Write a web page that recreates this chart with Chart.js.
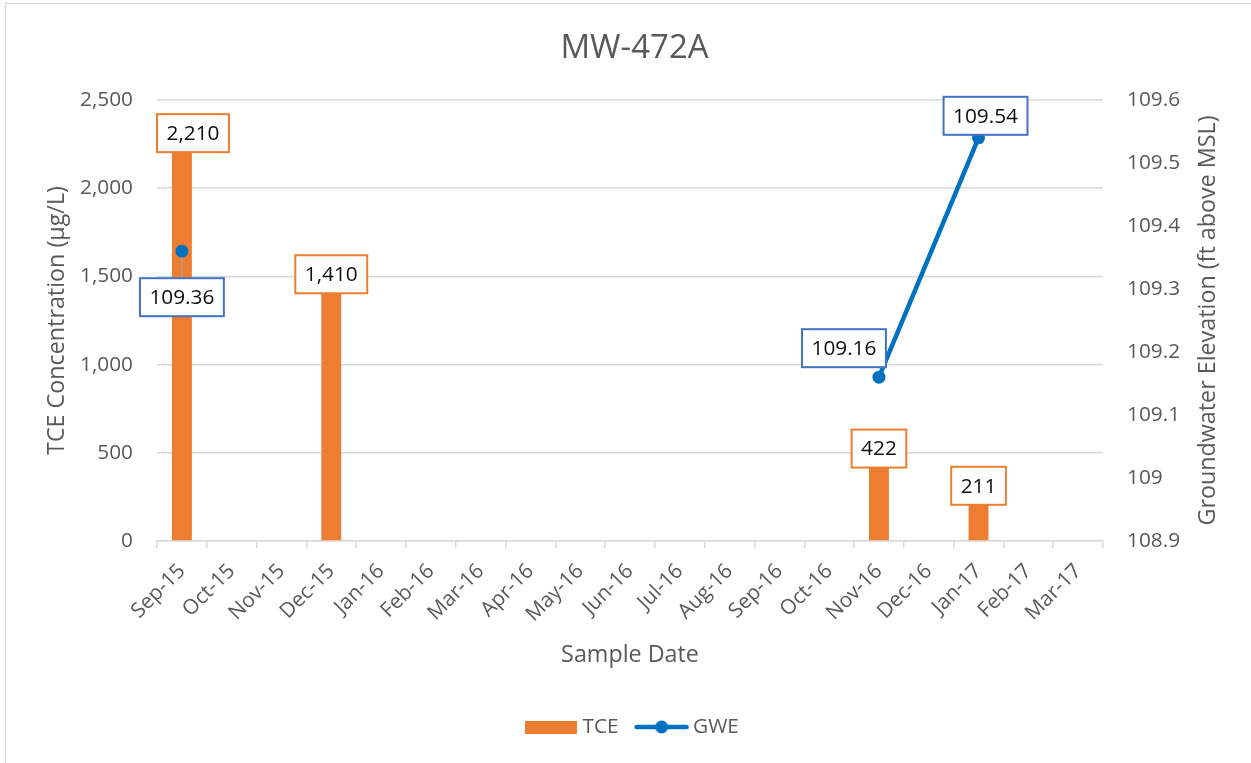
<!DOCTYPE html>
<html>
<head>
<meta charset="utf-8">
<title>MW-472A</title>
<script src="https://cdn.jsdelivr.net/npm/chart.js@4.4.1/dist/chart.umd.min.js"></script>
<style>
  html, body { margin: 0; padding: 0; background: #fff; }
  #wrap { width: 1251px; height: 763px; }
</style>
</head>
<body>
<div id="wrap"><canvas id="mwChart" width="1251" height="763"></canvas></div>
<script>
// chart data
const months = ['Sep-15', 'Oct-15', 'Nov-15', 'Dec-15', 'Jan-16', 'Feb-16', 'Mar-16', 'Apr-16', 'May-16', 'Jun-16',
                'Jul-16', 'Aug-16', 'Sep-16', 'Oct-16', 'Nov-16', 'Dec-16', 'Jan-17', 'Feb-17', 'Mar-17'];
const tceValues = [2210, null, null, 1410, null, null, null, null, null, null,
                   null, null, null, null, 422, null, 211, null, null];
const gweValues = [109.36, null, null, null, null, null, null, null, null, null,
                   null, null, null, null, 109.16, null, 109.54, null, null];
const leftTicks = [0, 500, 1000, 1500, 2000, 2500];
const rightTicks = [108.9, 109.0, 109.1, 109.2, 109.3, 109.4, 109.5, 109.6];

const chartTitle = 'MW-472A';
const xTitle = 'Sample Date';
const leftTitle = 'TCE Concentration (µg/L)';
const rightTitle = 'Groundwater Elevation (ft above MSL)';

// colours
const ORANGE = '#ED7D31';
const BLUE = '#0070C0';
const LABEL_BLUE = '#4472C4';
const GRID = '#d9d9d9';
const TEXT = '#595959';
const FONT = '"Open Sans", sans-serif';

// manual nudges of the GWE data labels (box centre relative to the point)
const gweLabelPlacement = {
    0: { dx: 0, dy: 46, leader: true },
    14: { dx: -35, dy: -29 },
    16: { dx: 7, dy: -22 }
};

// line only joins points that are close together (gap in Sep-15 -> Nov-16)
const gwePoints = gweValues
    .map((v, i) => v == null ? null : { x: months[i], y: v, idx: i })
    .filter(p => p);

Chart.defaults.font.family = FONT;
Chart.defaults.color = TEXT;

function makeSwatch(kind) {
    const cv = document.createElement('canvas');
    const c = cv.getContext('2d');
    if (kind === 'bar') {
        cv.width = 52; cv.height = 13;
        c.fillStyle = ORANGE;
        c.fillRect(0, 0, 52, 13);
    } else {
        cv.width = 56; cv.height = 14;
        c.strokeStyle = BLUE;
        c.lineWidth = 4.5;
        c.lineCap = 'round';
        c.beginPath(); c.moveTo(3, 7); c.lineTo(53, 7); c.stroke();
        c.fillStyle = BLUE;
        c.beginPath(); c.arc(28, 7, 6.5, 0, Math.PI * 2); c.fill();
    }
    return cv;
}

function drawBox(c, cx, cy, w, h, txt, border) {
    c.fillStyle = '#ffffff';
    c.fillRect(cx - w / 2, cy - h / 2, w, h);
    c.strokeStyle = border;
    c.lineWidth = 2;
    c.strokeRect(cx - w / 2, cy - h / 2, w, h);
    c.fillStyle = '#0d0d0d';
    c.fillText(txt, cx, cy + 1);
}

const framePlugin = {
    id: 'frame',
    beforeDraw(chart) {
        const c = chart.ctx;
        c.save();
        c.fillStyle = '#ffffff';
        c.fillRect(0, 0, chart.width, chart.height);
        c.strokeStyle = GRID;
        c.lineWidth = 1.3;
        c.strokeRect(5.5, 3.5, chart.width + 20, chart.height + 20);
        c.restore();
    }
};

const rightTitlePlugin = {
    id: 'rightTitle',
    afterDraw(chart) {
        const s = chart.scales.y2, a = chart.chartArea, c = chart.ctx;
        c.save();
        c.translate(s.left + 105, (a.top + a.bottom) / 2);
        c.rotate(-Math.PI / 2);
        c.font = '23.3px ' + FONT;
        c.fillStyle = TEXT;
        c.textAlign = 'center';
        c.textBaseline = 'middle';
        c.fillText(rightTitle, 0, 0);
        c.restore();
    }
};

const boxLabelPlugin = {
    id: 'boxLabels',
    afterDatasetsDraw(chart) {
        const c = chart.ctx, area = chart.chartArea;
        c.save();
        c.font = '20.8px ' + FONT;
        c.textAlign = 'center';
        c.textBaseline = 'middle';
        const h = 38;

        // TCE labels sit on top of the bars, kept inside the plot area
        chart.getDatasetMeta(0).data.forEach((bar, i) => {
            const v = tceValues[i];
            if (v == null) return;
            const txt = v.toLocaleString('en-US');
            const w = c.measureText(txt).width + 19;
            const cx = Math.max(area.left + w / 2, Math.min(area.right - w / 2, bar.x));
            drawBox(c, cx, bar.y - h / 2 + 1, w, h, txt, ORANGE);
        });

        // GWE labels
        chart.getDatasetMeta(1).data.forEach((pt, j) => {
            const p = gwePoints[j];
            const place = gweLabelPlacement[p.idx] || { dx: 0, dy: -24 };
            const txt = p.y.toFixed(2);
            const w = c.measureText(txt).width + 19;
            const cx = pt.x + place.dx, cy = pt.y + place.dy;
            if (place.leader) {
                c.strokeStyle = '#a6a6a6';
                c.lineWidth = 1.3;
                c.beginPath();
                c.moveTo(pt.x, pt.y + 6);
                c.lineTo(pt.x, cy - h / 2);
                c.stroke();
            }
            drawBox(c, cx, cy, w, h, txt, LABEL_BLUE);
        });
        c.restore();
    }
};

new Chart(document.getElementById('mwChart'), {
    type: 'bar',
    data: {
        labels: months,
        datasets: [{
            type: 'bar',
            label: 'TCE',
            data: tceValues,
            backgroundColor: ORANGE,
            borderWidth: 0,
            barPercentage: 0.4,
            categoryPercentage: 1.0,
            yAxisID: 'y',
            order: 1
        }, {
            type: 'line',
            label: 'GWE',
            data: gwePoints,
            borderColor: BLUE,
            backgroundColor: BLUE,
            borderWidth: 4.5,
            pointRadius: 6.5,
            pointBorderWidth: 0,
            pointBackgroundColor: BLUE,
            tension: 0,
            spanGaps: 2,
            yAxisID: 'y2',
            order: 0
        }]
    },
    options: {
        responsive: false,
        animation: false,
        devicePixelRatio: 1,
        layout: { padding: { left: 18, right: 0, top: 0, bottom: 15.6 } },
        plugins: {
            title: {
                display: true,
                text: chartTitle,
                color: TEXT,
                font: { size: 33, weight: 'normal' },
                padding: { top: 29, bottom: 31.4 }
            },
            legend: {
                position: 'bottom',
                labels: {
                    usePointStyle: true,
                    pointStyleWidth: 42,
                    padding: 22,
                    color: TEXT,
                    font: { size: 20.8 },
                    generateLabels: () => [
                        { text: 'TCE', pointStyle: makeSwatch('bar'), fillStyle: ORANGE, strokeStyle: ORANGE, lineWidth: 0, hidden: false, datasetIndex: 0, fontColor: TEXT },
                        { text: 'GWE', pointStyle: makeSwatch('line'), fillStyle: BLUE, strokeStyle: BLUE, lineWidth: 0, hidden: false, datasetIndex: 1, fontColor: TEXT }
                    ]
                }
            },
            tooltip: { enabled: false }
        },
        scales: {
            x: {
                type: 'category',
                offset: true,
                grid: {
                    offset: true,
                    drawOnChartArea: false,
                    drawTicks: true,
                    tickLength: 7,
                    color: GRID,
                    lineWidth: 1.5
                },
                border: { color: GRID, width: 1.5 },
                ticks: {
                    autoSkip: false,
                    minRotation: 45,
                    maxRotation: 45,
                    padding: 11,
                    color: TEXT,
                    font: { size: 20.8 }
                },
                title: {
                    display: true,
                    text: xTitle,
                    color: TEXT,
                    font: { size: 23.3 },
                    padding: { top: 0, bottom: 25.6 }
                },
                afterFit: s => { s.height = 153.6; }
            },
            y: {
                position: 'left',
                min: 0,
                max: 2500,
                afterBuildTicks: s => { s.ticks = leftTicks.map(v => ({ value: v })); },
                grid: { color: GRID, lineWidth: 1.5, drawTicks: false },
                border: { display: false },
                ticks: {
                    padding: 24,
                    color: TEXT,
                    font: { size: 20.8 },
                    callback: v => Number(v).toLocaleString('en-US')
                },
                title: {
                    display: true,
                    text: leftTitle,
                    color: TEXT,
                    font: { size: 23.3 },
                    padding: { top: 25, bottom: 0 }
                },
                afterFit: s => { s.width = 139; }
            },
            y2: {
                position: 'right',
                min: 108.9,
                max: 109.6,
                afterBuildTicks: s => { s.ticks = rightTicks.map(v => ({ value: v })); },
                grid: { display: false, drawTicks: false },
                border: { display: false },
                ticks: {
                    padding: 24,
                    color: TEXT,
                    font: { size: 20.8 },
                    callback: v => String(Number(Number(v).toFixed(2)))
                },
                afterFit: s => { s.width = 148; }
            }
        }
    },
    plugins: [framePlugin, boxLabelPlugin, rightTitlePlugin]
});
</script>
</body>
</html>
